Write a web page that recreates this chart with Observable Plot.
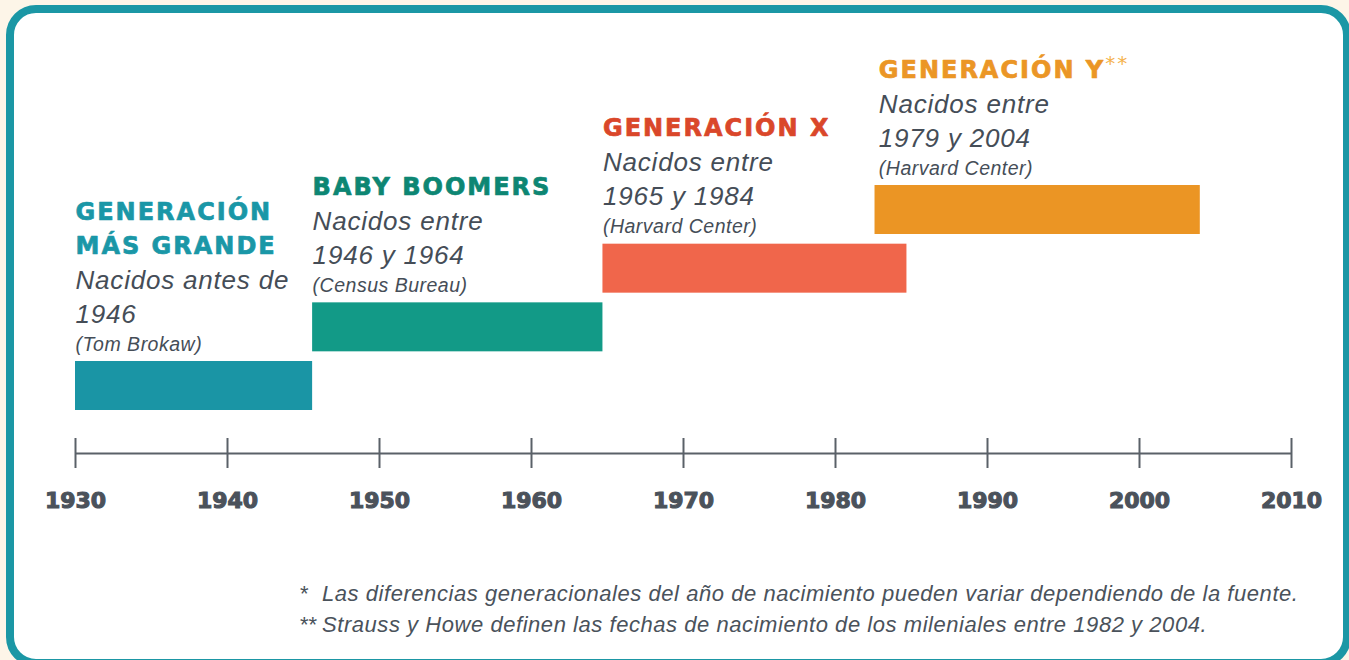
<!DOCTYPE html>
<html>
<head>
<meta charset="utf-8">
<script src="https://cdn.jsdelivr.net/npm/d3@7"></script>
<script src="https://cdn.jsdelivr.net/npm/@observablehq/plot@0.6"></script>
<style>
  html, body { margin: 0; padding: 0; background: #fdf5e8; width: 1349px; height: 660px; overflow: hidden; }
  #box { position: absolute; left: 6px; top: 5px; width: 1345px; height: 662px; box-sizing: border-box;
         border: 8px solid #1b97a5; border-radius: 30px; background: #ffffff; }
  #chart { position: absolute; left: 0; top: 0; }
  #notes { position: absolute; left: 300px; top: 578px; font-family: "Liberation Sans", Arial, sans-serif;
           font-style: italic; font-size: 22px; line-height: 31px; color: #4a525b; letter-spacing: 0.55px; white-space: nowrap; }
  #notes .m { display: inline-block; width: 22px; font-style: normal; letter-spacing: 0; }
</style>
</head>
<body>
<div id="box"></div>
<div id="chart"></div>
<div id="notes">
  <div><span class="m">*</span>Las diferencias generacionales del año de nacimiento pueden variar dependiendo de la fuente.</div>
  <div><span class="m">**</span>Strauss y Howe definen las fechas de nacimiento de los mileniales entre 1982 y 2004.</div>
</div>
<script>
// ---- data ----
const generations = ["GENERACIÓN\nMÁS GRANDE", "BABY BOOMERS", "GENERACIÓN X", "GENERACIÓN Y"];
const levels = [0, 1, 2, 3];
const starts = [1930, 1945.6, 1964.7, 1982.6];
const ends = [1945.6, 1964.7, 1984.7, 2004];
const labelStarts = [1930, 1945.6, 1964.7, 1982.85];
const descriptions = ["Nacidos antes de\n1946", "Nacidos entre\n1946 y 1964", "Nacidos entre\n1965 y 1984", "Nacidos entre\n1979 y 2004"];
const sources = ["(Tom Brokaw)", "(Census Bureau)", "(Harvard Center)", "(Harvard Center)"];
const barColors = ["#1a95a5", "#129a87", "#f0664b", "#eb9524"];
const headerColors = ["#1a97a7", "#0d8673", "#da472a", "#eb9626"];
const years = [1930, 1940, 1950, 1960, 1970, 1980, 1990, 2000, 2010];

// ---- layout constants (in y data units) ----
const barHeight = 0.835;
const axisRow = -0.733;
const tickHalf = 0.256;

const rows = levels.map((lv, i) => ({
  level: lv, start: starts[i], end: ends[i], labelX: labelStarts[i], name: generations[i],
  desc: descriptions[i], source: sources[i], barColor: barColors[i], headerColor: headerColors[i]
}));

const ink = "#454d57";

const plot = Plot.plot({
  width: 1349,
  height: 578,
  marginLeft: 75,
  marginRight: 58,
  marginTop: 0,
  marginBottom: 125,
  style: { background: "transparent", overflow: "visible" },
  x: { domain: [1930, 2010] },
  y: { domain: [0, 3], range: [410, 234], axis: null },
  color: { type: "identity" },
  marks: [
    Plot.ruleY([axisRow], { x1: 1930, x2: 2010, stroke: "#5a6168", strokeWidth: 2 }),
    Plot.ruleX(years, { x: d => d, y1: axisRow - tickHalf, y2: axisRow + tickHalf, stroke: "#5a6168", strokeWidth: 2 }),
    Plot.axisX({ ticks: years, tickFormat: "d", tickSize: 0, tickPadding: 39, fontSize: 22, fontWeight: "bold",
                 fontFamily: "DejaVu Sans", color: "#4b525b", label: null }),
    Plot.rect(rows, { x1: "start", x2: "end", y1: d => d.level, y2: d => d.level + barHeight, fill: "barColor" }),
    Plot.text(rows, { x: "labelX", y: d => d.level + barHeight, text: "name", fill: "headerColor", stroke: "headerColor",
                      strokeWidth: 0.7, dy: -108,
                      textAnchor: "start", lineAnchor: "bottom", lineHeight: 34 / 24, fontSize: 24,
                      fontWeight: "bold", fontFamily: "DejaVu Sans" }),
    Plot.text(rows, { x: "labelX", y: d => d.level + barHeight, text: "desc", fill: ink, dy: -39,
                      textAnchor: "start", lineAnchor: "bottom", lineHeight: 34 / 26, fontSize: 26,
                      fontStyle: "italic", fontFamily: "Liberation Sans" }),
    Plot.text(rows, { x: "labelX", y: d => d.level + barHeight, text: "source", fill: ink, dy: -11,
                      textAnchor: "start", lineAnchor: "bottom", fontSize: 19.5,
                      fontStyle: "italic", fontFamily: "Liberation Sans" })
  ]
});

document.getElementById("chart").appendChild(plot);

// letter spacing for the three text layers (header, description, source)
const textLayers = d3.select(plot).selectAll('g[aria-label="text"]').nodes();
const spacing = ["2px", "0.8px", "0.5px"];
textLayers.forEach((g, i) => d3.select(g).style("letter-spacing", spacing[i]));

// heavier tick labels
d3.select(plot).selectAll('g[aria-label="x-axis tick label"]')
  .attr("stroke", "#4b525b").attr("stroke-width", 1.1).attr("paint-order", "stroke");

// superscript "**" after GENERACIÓN Y
d3.select(textLayers[0]).selectAll("text").filter(function () {
  return this.textContent === "GENERACIÓN Y";
}).append("tspan").attr("dy", "-8").attr("font-size", 20).attr("font-weight", "normal")
  .attr("stroke", "none").attr("fill", "#f5b24c").text("**");
</script>
</body>
</html>
